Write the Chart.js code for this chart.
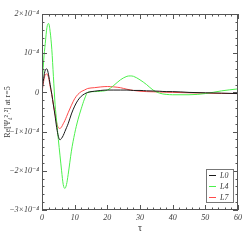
<!DOCTYPE html>
<html>
<head>
<meta charset="utf-8">
<script src="https://cdn.jsdelivr.net/npm/chart.js@4"></script>
<style>
  html, body { margin: 0; padding: 0; background: #fff; }
  #wrap { width: 251px; height: 240px; }
</style>
</head>
<body>
<div id="wrap"><canvas id="psiChart" width="251" height="240"></canvas></div>
<script>
// values in units of 1e-4
const tau = [0, 0.5, 1, 1.5, 2, 2.5, 3, 3.5, 4, 4.5, 5, 5.5, 6, 6.5, 7, 7.5, 8, 9, 10, 11, 12, 13, 14, 16, 18, 20, 22, 24, 26, 27, 28, 30, 32, 34, 36, 38, 40, 45, 50, 55, 60];
const l0 = [0.05, 0.35, 0.57, 0.6, 0.45, 0.2, -0.05, -0.32, -0.6, -0.9, -1.12, -1.21, -1.17, -1.1, -1.0, -0.9, -0.8, -0.55, -0.35, -0.2, -0.1, -0.04, 0.0, 0.03, 0.05, 0.06, 0.06, 0.06, 0.06, 0.055, 0.05, 0.05, 0.04, 0.035, 0.03, 0.02, 0.02, 0.0, -0.01, -0.02, -0.03];
const l4 = [0.05, 0.8, 1.25, 1.65, 1.76, 1.55, 1.1, 0.4, -0.3, -0.75, -1.2, -1.6, -2.0, -2.35, -2.45, -2.35, -2.1, -1.5, -1.05, -0.7, -0.42, -0.17, 0.0, 0.02, 0.03, 0.06, 0.18, 0.32, 0.41, 0.42, 0.41, 0.32, 0.2, 0.06, -0.02, -0.05, -0.06, -0.06, -0.03, 0.04, 0.09];
const l7 = [0.0, 0.28, 0.45, 0.47, 0.38, 0.15, -0.05, -0.32, -0.55, -0.78, -0.9, -0.92, -0.88, -0.8, -0.72, -0.62, -0.52, -0.33, -0.16, -0.05, 0.02, 0.06, 0.1, 0.12, 0.14, 0.15, 0.14, 0.12, 0.08, 0.065, 0.05, 0.03, 0.02, 0.015, 0.01, 0.005, 0.0, -0.01, -0.02, -0.025, -0.03];
const yTickText = { '-3': '\u22123\u00d710\u207b\u2074', '-2': '\u22122\u00d710\u207b\u2074', '-1': '\u22121\u00d710\u207b\u2074', '0': '0', '1': '10\u207b\u2074', '2': '2\u00d710\u207b\u2074' };

const serif = "'Liberation Serif', 'DejaVu Serif', serif";
const inkColor = '#3a3a3a';

function series(label, vals, color) {
    return {
        label: label,
        data: tau.map((t, i) => ({ x: t, y: vals[i] })),
        borderColor: color,
        backgroundColor: color,
        borderWidth: 1,
        pointRadius: 0,
        cubicInterpolationMode: 'monotone',
        fill: false
    };
}

// frame, inward ticks and boxed legend, like the old IDL plots
const framePlugin = {
    id: 'frame',
    afterDraw(chart) {
        const ctx = chart.ctx;
        const a = chart.chartArea;
        const xs = chart.scales.x, ys = chart.scales.y;
        ctx.save();
        ctx.strokeStyle = '#555';
        ctx.lineWidth = 1;
        ctx.strokeRect(a.left + 0.5, a.top + 0.5, a.right - a.left - 1, a.bottom - a.top - 1);
        ctx.beginPath();
        for (let v = 0; v <= 60; v += 2) {
            const px = Math.round(xs.getPixelForValue(v)) + 0.5;
            const len = v % 10 === 0 ? 5 : 2.5;
            ctx.moveTo(px, a.bottom); ctx.lineTo(px, a.bottom - len);
            ctx.moveTo(px, a.top); ctx.lineTo(px, a.top + len);
        }
        for (let k = -15; k <= 10; k++) {
            const py = Math.round(ys.getPixelForValue(k / 5)) + 0.5;
            const len = k % 5 === 0 ? 5 : 2.5;
            ctx.moveTo(a.left, py); ctx.lineTo(a.left + len, py);
            ctx.moveTo(a.right, py); ctx.lineTo(a.right - len, py);
        }
        ctx.stroke();

        // legend box
        const bx = a.right - 32, by = a.bottom - 41, bw = 27, bh = 33;
        ctx.strokeStyle = '#777';
        ctx.strokeRect(bx + 0.5, by + 0.5, bw, bh);
        ctx.font = 'italic 8px ' + serif;
        ctx.textBaseline = 'middle';
        ctx.fillStyle = inkColor;
        chart.data.datasets.forEach((ds, i) => {
            const yy = by + 6.5 + i * 11;
            ctx.strokeStyle = ds.borderColor;
            ctx.beginPath();
            ctx.moveTo(bx + 3, yy); ctx.lineTo(bx + 10, yy);
            ctx.stroke();
            ctx.fillText(ds.label, bx + 14, yy);
        });
        ctx.restore();
    }
};

const config = {
    type: 'line',
    data: {
        datasets: [
            series('L0', l0, '#1a1a1a'),
            series('L4', l4, '#4cf04c'),
            series('L7', l7, '#ff4a4a')
        ]
    },
    options: {
        responsive: false,
        animation: false,
        layout: { padding: { left: 0, top: 14, right: 13, bottom: 0 } },
        plugins: { legend: { display: false }, tooltip: { enabled: false } },
        scales: {
            x: {
                type: 'linear',
                min: 0, max: 60,
                grid: { display: false, drawTicks: false },
                border: { display: false },
                ticks: { stepSize: 10, padding: 3, maxRotation: 0, color: inkColor, font: { family: serif, style: 'italic', size: 8 } },
                title: { display: true, text: '\u03c4', color: inkColor, font: { family: serif, size: 10, lineHeight: 1 }, padding: { top: 0, bottom: 7 } },
                afterFit: s => { s.height = 30; }
            },
            y: {
                min: -3, max: 2,
                grid: { display: false, drawTicks: false },
                border: { display: false },
                ticks: {
                    stepSize: 1, padding: 3, color: inkColor,
                    font: { family: serif, style: 'italic', size: 8 },
                    callback: v => yTickText[String(v)] || ''
                },
                title: { display: true, text: 'Re[\u03a8\u2084\u00b2\u02d2\u00b2] at r=5', color: inkColor, font: { family: serif, size: 8, lineHeight: 1 }, padding: { top: 4, bottom: 0 } },
                afterFit: s => { s.width = 42; }
            }
        }
    },
    plugins: [framePlugin]
};

const psiChart = new Chart(document.getElementById('psiChart'), config);
</script>
</body>
</html>
